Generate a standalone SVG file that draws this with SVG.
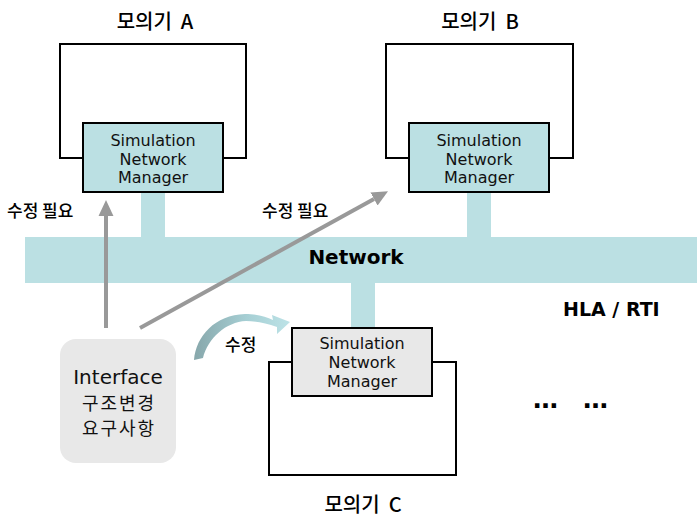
<svg xmlns="http://www.w3.org/2000/svg" width="697" height="517" viewBox="0 0 697 517">
  <style>
    .title { font-family: "Noto Sans CJK KR", "DejaVu Sans", sans-serif; font-size: 20px; font-weight: 500; fill: #000; white-space: pre; }
    .snm { font-family: "DejaVu Sans", sans-serif; font-size: 16px; fill: #111; text-anchor: middle; }
    .lbl { font-family: "Noto Sans CJK KR", sans-serif; font-size: 17px; font-weight: 500; fill: #000; }
    .bold { font-family: "DejaVu Sans", sans-serif; font-weight: bold; fill: #000; }
    .outer { fill: #fff; stroke: #000; stroke-width: 2; }
    .snmbox { fill: #bbe0e3; stroke: #000; stroke-width: 2; }
    .bus { fill: #bbe0e3; }
    .arrow { stroke: #999; stroke-width: 4; fill: none; }
    .req { font-family: "Noto Sans CJK KR", sans-serif; font-size: 18px; letter-spacing: 2px; fill: #111; text-anchor: middle; }
  </style>
  <defs>
    <marker id="head" markerUnits="userSpaceOnUse" markerWidth="16" markerHeight="16" refX="0" refY="7" orient="auto" viewBox="0 0 15 14">
      <path d="M0,0 L15,7 L0,14 Z" fill="#999"/>
    </marker>
    <linearGradient id="curve" x1="0" y1="0" x2="1" y2="0">
      <stop offset="0" stop-color="#87a7ab"/>
      <stop offset="0.55" stop-color="#a6cfd4"/>
      <stop offset="1" stop-color="#bde3e7"/>
    </linearGradient>
  </defs>

  <!-- network bus and drops -->
  <g id="network">
    <rect class="bus" x="25" y="237" width="672" height="46"/>
    <rect class="bus" x="141" y="190" width="24" height="48"/>
    <rect class="bus" x="467" y="190" width="24" height="48"/>
    <rect class="bus" x="351" y="282" width="24" height="47"/>
    <text class="bold" x="356" y="264" font-size="20" text-anchor="middle">Network</text>
  </g>

  <g id="sim-a">
    <text class="title" x="155" y="29" text-anchor="middle" xml:space="preserve">모의기  A</text>
    <rect class="outer" x="60" y="44" width="186" height="114"/>
    <rect class="snmbox" x="83" y="123" width="140" height="69"/>
    <text class="snm" x="153" y="146">Simulation</text>
    <text class="snm" x="153" y="164.5">Network</text>
    <text class="snm" x="153" y="183">Manager</text>
  </g>

  <g id="sim-b">
    <text class="title" x="480" y="29" text-anchor="middle" xml:space="preserve">모의기  B</text>
    <rect class="outer" x="386" y="44" width="187" height="114"/>
    <rect class="snmbox" x="409" y="123" width="140" height="69"/>
    <text class="snm" x="479" y="146">Simulation</text>
    <text class="snm" x="479" y="164.5">Network</text>
    <text class="snm" x="479" y="183">Manager</text>
  </g>

  <g id="sim-c">
    <rect class="outer" x="269" y="362" width="187" height="113"/>
    <rect class="snmbox" x="292" y="328" width="140" height="68" style="fill:#e8e8e8"/>
    <text class="snm" x="362" y="349">Simulation</text>
    <text class="snm" x="362" y="368">Network</text>
    <text class="snm" x="362" y="387">Manager</text>
    <text class="title" x="363" y="512" text-anchor="middle" xml:space="preserve">모의기  C</text>
  </g>

  <g id="hla">
    <text class="bold" x="563" y="316" font-size="19">HLA / RTI</text>
  </g>

  <g id="more">
    <text x="533" y="408" font-family="DejaVu Sans, sans-serif" font-size="25" font-weight="bold" fill="#000">…</text>
    <text x="583" y="408" font-family="DejaVu Sans, sans-serif" font-size="25" font-weight="bold" fill="#000">…</text>
  </g>

  <g id="interface">
    <rect x="60" y="339" width="116" height="124" rx="16" fill="#e8e8e8"/>
    <text x="118" y="384" font-family="DejaVu Sans, sans-serif" font-size="20" fill="#111" text-anchor="middle">Interface</text>
    <text class="req" x="119" y="410">구조변경</text>
    <text class="req" x="119" y="435">요구사항</text>
  </g>

  <!-- connectors -->
  <g id="connectors">
    <line class="arrow" x1="106" y1="328" x2="106" y2="216" marker-end="url(#head)"/>
    <line class="arrow" x1="140" y1="328" x2="374" y2="199" marker-end="url(#head)"/>
    <path d="M194,360 C196,336 215,315 245,314 C258,314 266,317 273,320 L272,315 L290,322 L277,334 L277,327 C266,323 256,321 246,321 C226,322 208,338 203,358 Z" fill="url(#curve)"/>
    <text class="lbl" x="7" y="217">수정 필요</text>
    <text class="lbl" x="262" y="217">수정 필요</text>
    <text class="lbl" x="225" y="351">수정</text>
  </g>
</svg>
